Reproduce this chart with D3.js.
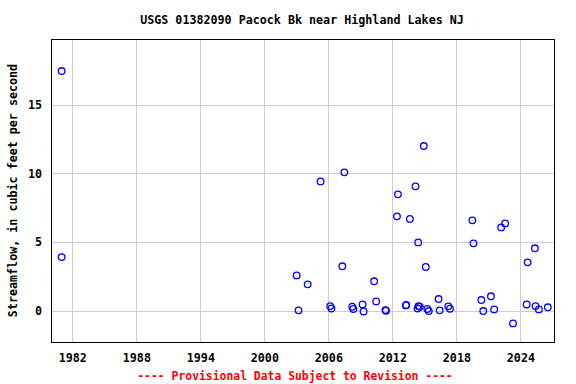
<!DOCTYPE html>
<html>
<head>
<meta charset="utf-8">
<script src="https://cdn.jsdelivr.net/npm/d3@7"></script>
<style>
  body { margin: 0; background: #fff; }
  text { font-family: "DejaVu Sans Mono", "Liberation Mono", monospace; font-weight: bold; }
</style>
</head>
<body>
<svg id="chart" width="576" height="384"></svg>
<script>
// measurement dates (decimal years) and streamflow, cfs
let years = [1981.0, 1981.0, 2003.03, 2003.2, 2004.06, 2005.27, 2006.17, 2006.29,
  2007.5, 2007.31, 2008.24, 2008.34, 2009.21, 2009.3, 2010.29, 2010.48,
  2011.35, 2011.4, 2012.43, 2012.52, 2013.27, 2013.3, 2013.64, 2014.17,
  2014.42, 2014.94, 2014.36, 2014.45, 2014.57, 2015.13, 2015.28, 2015.41,
  2016.33, 2016.43, 2017.24, 2017.4, 2019.5, 2019.6, 2020.34, 2020.52,
  2021.24, 2021.54, 2022.2, 2022.57, 2023.31, 2024.59, 2024.68, 2025.36,
  2025.42, 2025.73, 2026.57];
let flows = [17.44, 3.92, 2.59, 0.05, 1.94, 9.42, 0.36, 0.19,
  10.08, 3.25, 0.31, 0.15, 0.48, -0.03, 2.16, 0.70,
  0.07, 0.02, 6.88, 8.48, 0.41, 0.44, 6.69, 9.06,
  4.99, 11.99, 0.19, 0.36, 0.31, 3.2, 0.15, 0.0,
  0.87, 0.05, 0.34, 0.17, 6.59, 4.92, 0.80, 0.0,
  1.07, 0.12, 6.08, 6.37, -0.9, 0.48, 3.54, 4.56,
  0.36, 0.12, 0.27];
let xTicks = [1982, 1988, 1994, 2000, 2006, 2012, 2018, 2024];
let yTicks = [0, 5, 10, 15];

let plotL = 51, plotR = 554, plotT = 39, plotB = 342;
let svg = d3.select("#chart");

let x = d3.scaleLinear().domain([1980.0, 2027.15]).range([plotL, plotR]);
let y = d3.scaleLinear().domain([-2.25, 19.77]).range([plotB, plotT]);

// grid
let grid = svg.append("g").attr("stroke", "#cccccc").attr("stroke-width", 1);
grid.selectAll("line.v").data(xTicks).enter().append("line")
  .attr("x1", d => Math.round(x(d)) + 0.5).attr("x2", d => Math.round(x(d)) + 0.5)
  .attr("y1", plotT).attr("y2", plotB);
grid.selectAll("line.h").data(yTicks).enter().append("line")
  .attr("y1", d => Math.round(y(d)) + 0.5).attr("y2", d => Math.round(y(d)) + 0.5)
  .attr("x1", plotL).attr("x2", plotR);

// axes labels via d3 axes, no tick lines
let xAxis = d3.axisBottom(x).tickValues(xTicks).tickFormat(d3.format("d")).tickSize(0).tickPadding(12);
svg.append("g").attr("transform", `translate(0,${plotB})`).call(xAxis)
  .call(g => g.select(".domain").remove())
  .selectAll("text").attr("font-size", "11.7px").attr("fill", "#000")
  .style("font-family", "DejaVu Sans Mono, monospace").style("font-weight", "bold");

let yAxis = d3.axisLeft(y).tickValues(yTicks).tickSize(0).tickPadding(9);
svg.append("g").attr("transform", `translate(${plotL},0)`).call(yAxis)
  .call(g => g.select(".domain").remove())
  .selectAll("text").attr("font-size", "11.7px").attr("fill", "#000")
  .style("font-family", "DejaVu Sans Mono, monospace").style("font-weight", "bold");

// points
svg.append("g").selectAll("circle").data(years).enter().append("circle")
  .attr("cx", (d, i) => x(d))
  .attr("cy", (d, i) => y(flows[i]))
  .attr("r", 3.3)
  .attr("fill", "none")
  .attr("stroke", "#0000ff")
  .attr("stroke-width", 1.3);

// frame
svg.append("rect").attr("x", plotL + 0.5).attr("y", plotT + 0.5)
  .attr("width", plotR - plotL).attr("height", plotB - plotT)
  .attr("fill", "none").attr("stroke", "#000").attr("stroke-width", 1);

svg.append("text").attr("x", 302).attr("y", 24).attr("text-anchor", "middle")
  .attr("font-size", "11.7px").text("USGS 01382090 Pacock Bk near Highland Lakes NJ");

svg.append("text").attr("transform", `translate(17,${(plotT + plotB) / 2}) rotate(-90)`)
  .attr("text-anchor", "middle").attr("font-size", "11.7px")
  .text("Streamflow, in cubic feet per second");

svg.append("text").attr("x", 295).attr("y", 380).attr("text-anchor", "middle")
  .attr("font-size", "11.4px").attr("fill", "#ff0000")
  .text("---- Provisional Data Subject to Revision ----");
</script>
</body>
</html>
